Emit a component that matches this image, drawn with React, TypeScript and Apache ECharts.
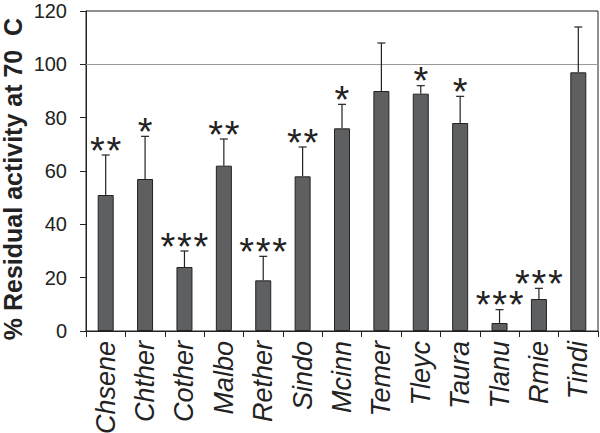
import React, { useEffect, useRef } from "react";
import * as echarts from "echarts";

const categories = ["Chsene", "Chther", "Cother", "Malbo", "Rether", "Sindo", "Mcinn", "Temer", "Tleyc", "Taura", "Tlanu", "Rmie", "Tindi"];
const values = [51, 57, 24, 62, 19, 58, 76, 90, 89, 78, 3, 12, 97];
const errorTops = [66, 73, 30, 72, 28, 69, 85, 108, 92, 88, 8, 16, 114];
const stars = ["**", "*", "***", "**", "***", "**", "*", "", "*", "*", "***", "***", ""];
const yTicks = [0, 20, 40, 60, 80, 100, 120];
const referenceLine = 100;
const yAxisTitle = "% Residual activity at 70  C";

const FONT = "Liberation Sans, Arial, Helvetica, sans-serif";

export default function App() {
  const ref = useRef<HTMLDivElement>(null);
  useEffect(() => {
    if (!ref.current) return;
    const chart = echarts.init(ref.current, undefined, { renderer: "svg" });
    const errData = categories.map((c, i) => [i, values[i], errorTops[i]]);
    chart.setOption({
      animation: false,
      backgroundColor: "#ffffff",
      grid: {
        left: 86,
        right: 2,
        top: 11,
        bottom: 102,
        show: true,
        borderColor: "#222",
        borderWidth: 1,
        containLabel: false,
        outerBoundsMode: "none",
      },
      graphic: [
        {
          type: "text",
          x: 12.5,
          y: 179,
          rotation: Math.PI / 2,
          style: {
            text: yAxisTitle,
            fontFamily: FONT,
            fontSize: 25,
            fontWeight: "bold",
            fill: "#222",
            align: "center",
            verticalAlign: "middle",
          },
        },
      ],
      xAxis: {
        type: "category",
        data: categories,
        boundaryGap: true,
        axisLine: { lineStyle: { color: "#222", width: 1 } },
        axisTick: { show: true, length: 6, alignWithLabel: false, inside: false, lineStyle: { color: "#222" } },
        axisLabel: {
          rotate: 90,
          interval: 0,
          fontStyle: "italic",
          fontFamily: FONT,
          fontSize: 27,
          color: "#222",
          margin: 10,
        },
      },
      yAxis: {
        type: "value",
        min: yTicks[0],
        max: yTicks[yTicks.length - 1],
        interval: 20,
        axisLine: { show: true, lineStyle: { color: "#222", width: 1 } },
        axisTick: { show: true, length: 6, lineStyle: { color: "#222" } },
        splitLine: { show: false },
        axisLabel: {
          fontFamily: FONT,
          fontSize: 20,
          color: "#222",
          margin: 19,
        },
      },
      series: [
        {
          type: "bar",
          data: values,
          barWidth: 16,
          itemStyle: { color: "#5e5f61", borderColor: "#222", borderWidth: 1 },
          markLine: {
            silent: true,
            symbol: "none",
            label: { show: false },
            lineStyle: { color: "#999", type: "solid", width: 1 },
            data: [{ yAxis: referenceLine }],
          },
        },
        {
          type: "custom",
          data: errData,
          z: 5,
          renderItem: (params: any, api: any) => {
            const i = api.value(0);
            const base = api.coord([i, api.value(1)]);
            const top = api.coord([i, api.value(2)]);
            const n = stars[params.dataIndex].length;
            const capHalf = 4;
            const spacing = 16.5;
            const children: any[] = [
              {
                type: "line",
                shape: { x1: base[0], y1: base[1], x2: top[0], y2: top[1] },
                style: { stroke: "#222", lineWidth: 1.2 },
              },
              {
                type: "line",
                shape: { x1: top[0] - capHalf, y1: top[1], x2: top[0] + capHalf, y2: top[1] },
                style: { stroke: "#222", lineWidth: 1.2 },
              },
            ];
            for (let k = 0; k < n; k++) {
              children.push({
                type: "text",
                x: top[0] + (k - (n - 1) / 2) * spacing,
                y: top[1] - 4.5,
                style: {
                  text: "*",
                  fontSize: 38,
                  lineHeight: 12,
                  fontFamily: FONT,
                  fill: "#222",
                  align: "center",
                  verticalAlign: "middle",
                },
              });
            }
            return { type: "group", children };
          },
        },
      ],
    });
    return () => chart.dispose();
  }, []);
  return <div ref={ref} style={{ width: 600, height: 433, position: "absolute", left: 0, top: 0 }} />;
}
